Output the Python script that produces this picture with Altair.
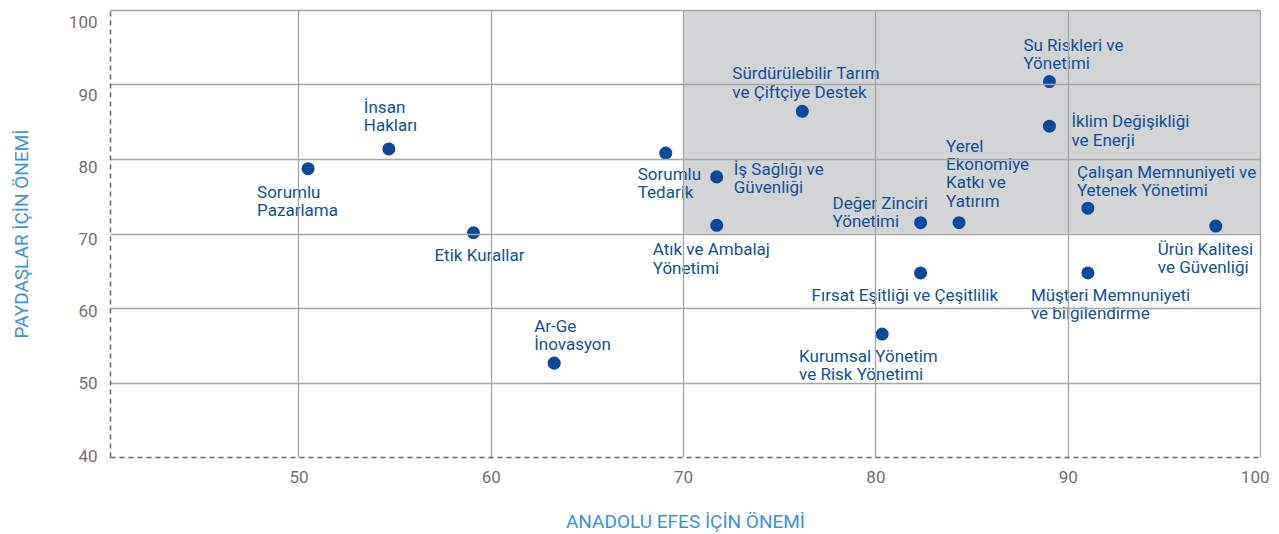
import altair as alt
import pandas as pd

# ---- data ----
topics = [
    "Sorumlu\nPazarlama",
    "İnsan\nHakları",
    "Etik Kurallar",
    "Ar-Ge\nİnovasyon",
    "Sorumlu\nTedarik",
    "İş Sağlığı ve\nGüvenliği",
    "Atık ve Ambalaj\nYönetimi",
    "Sürdürülebilir Tarım\nve Çiftçiye Destek",
    "Değer Zinciri\nYönetimi",
    "Yerel\nEkonomiye\nKatkı ve\nYatırım",
    "Fırsat Eşitliği ve Çeşitlilik",
    "Kurumsal Yönetim\nve Risk Yönetimi",
    "Su Riskleri ve\nYönetimi",
    "İklim Değişikliği\nve Enerji",
    "Çalışan Memnuniyeti ve\nYetenek Yönetimi",
    "Ürün Kalitesi\nve Güvenliği",
    "Müşteri Memnuniyeti\nve bilgilendirme",
]
efes_importance = [50.5, 54.7, 59.1, 63.3, 69.1, 71.75, 71.75, 76.2, 82.35, 84.35,
                   82.35, 80.35, 89.05, 89.05, 91.05, 97.7, 91.05]
stakeholder_importance = [78.7, 81.35, 70.1, 52.6, 80.8, 77.6, 71.1, 86.4, 71.45, 71.45,
                          64.7, 56.5, 90.4, 84.4, 73.4, 71.0, 64.7]

# label offsets (pixels, relative to the point)
label_dx = [-51, -25, -39, -20, -28, 17, -64, -70, -88, -13, -109, -83, -26, 22, -11, -58, -57]
label_dy = [29, -36, 28, -31, 27, -2, 30, -32, -14, -71, 28, 28, -31, 1, -30, 29, 28]

zone_x = [70, 100]
zone_y = [70, 100]

x_ticks = [50, 60, 70, 80, 90, 100]
y_ticks = [40, 50, 60, 70, 80, 90, 100]

df = pd.DataFrame({"topic": topics, "x": efes_importance, "y": stakeholder_importance})
zone = pd.DataFrame({"x": [zone_x[0]], "x2": [zone_x[1]], "y": [zone_y[0]], "y2": [zone_y[1]]})

FONT = "Roboto"
TEXT_BLUE = "#134f99"
POINT_BLUE = "#0b4a99"
GRID = "#a5a5a5"

xscale = alt.Scale(domain=[40.2, 100], nice=False, zero=False)
yscale = alt.Scale(domain=[40, 100], nice=False, zero=False)

xaxis = alt.Axis(
    values=x_ticks, ticks=False, grid=True, gridColor=GRID, gridWidth=1.3,
    domainColor="#666666", domainDash=[5, 4], domainWidth=1.5,
    labelFont=FONT, labelFontSize=17, labelColor="#707070", labelPadding=12,
    labelFlush=True, labelFlushOffset=9,
    title="ANADOLU EFES İÇİN ÖNEMİ", titleFont=FONT, titleFontSize=19,
    titleFontWeight="normal", titleColor="#3a93d8", titlePadding=27, zindex=1,
)
yaxis = alt.Axis(
    values=y_ticks, ticks=False, grid=True,
    gridColor=alt.condition("datum.value == 40", alt.value("transparent"), alt.value(GRID)),
    gridWidth=1.3,
    domainColor="#666666", domainDash=[5, 4], domainWidth=1.5,
    labelFont=FONT, labelFontSize=17, labelColor="#707070", labelPadding=13,
    labelBaseline="middle", labelFlush=False,
    labelOffset={"expr": "-1 + (datum.value - 40) * 0.233"},
    title="PAYDAŞLAR İÇİN ÖNEMİ", titleFont=FONT, titleFontSize=19,
    titleFontWeight="normal", titleColor="#3a93d8", titlePadding=37, zindex=1,
)

rect = alt.Chart(zone).mark_rect(color="#d3d4d6").encode(
    x=alt.X("x:Q", scale=xscale, axis=xaxis),
    x2="x2:Q",
    y=alt.Y("y:Q", scale=yscale, axis=yaxis),
    y2="y2:Q",
)

points = alt.Chart(df).mark_circle(size=170, opacity=1, color=POINT_BLUE).encode(
    x=alt.X("x:Q", scale=xscale),
    y=alt.Y("y:Q", scale=yscale),
)

label_layers = []
for i in range(len(topics)):
    label_layers.append(
        alt.Chart(df.iloc[[i]]).mark_text(
            align="left", baseline="alphabetic", dx=label_dx[i], dy=label_dy[i],
            font=FONT, fontSize=17, color=TEXT_BLUE, lineBreak="\n", lineHeight=18.3,
        ).encode(
            x=alt.X("x:Q", scale=xscale),
            y=alt.Y("y:Q", scale=yscale),
            text="topic:N",
        )
    )

chart = alt.layer(rect, points, *label_layers).properties(
    width=1150, height=447,
    autosize=alt.AutoSizeParams(type="none"),
    padding={"left": 102, "top": 2, "right": 11, "bottom": 80},
).configure_view(stroke=None)

chart.save("out.html", embed_options={"renderer": "svg", "actions": False})
